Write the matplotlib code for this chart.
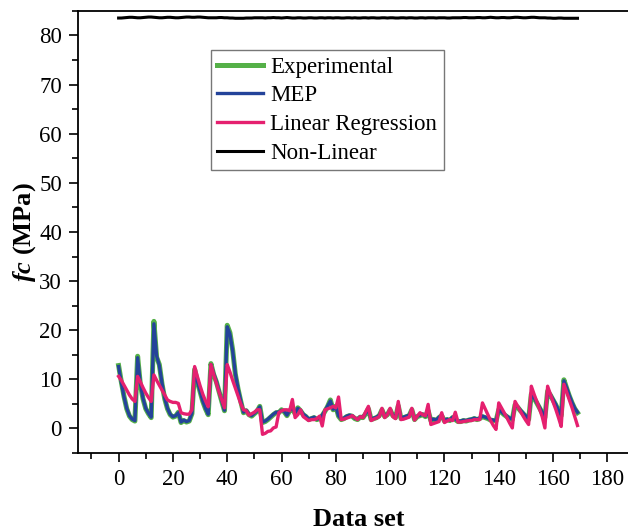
import numpy as np
import matplotlib
matplotlib.use('Agg')
import matplotlib.pyplot as plt
from matplotlib.ticker import MultipleLocator

plt.rcParams['font.family'] = ['Liberation Serif', 'DejaVu Serif']
plt.rcParams['mathtext.fontset'] = 'custom'
plt.rcParams['mathtext.rm'] = 'Liberation Serif'
plt.rcParams['mathtext.bfit'] = 'Liberation Serif:bold:italic'

# fc (MPa) per data set index 0..169
experimental = [
    12.8, 9.5, 6.5, 4.0, 2.5, 1.8, 1.5, 14.7, 9.0, 6.0,
    4.0, 3.0, 2.2, 21.8, 14.5, 13.0, 9.0, 6.0, 4.0, 2.8,
    2.3, 2.5, 3.3, 1.2, 1.6, 1.3, 1.5, 3.0, 12.0, 9.5,
    7.5, 5.5, 4.0, 2.8, 13.2, 11.0, 9.5, 7.5, 5.5, 3.6,
    21.0, 19.5, 16.0, 11.0, 8.0, 5.5, 3.2, 3.6, 2.8, 2.5,
    3.0, 3.5, 4.5, 1.2, 1.4, 1.8, 2.3, 2.8, 3.2, 3.2,
    3.8, 3.4, 2.6, 3.6, 4.0, 3.0, 4.2, 3.6, 2.8, 2.4,
    1.8, 2.0, 2.2, 1.8, 2.0, 2.6, 3.5, 4.5, 5.8, 3.8,
    4.5, 2.5, 1.8, 2.0, 2.4, 2.6, 2.5, 2.0, 1.8, 2.3,
    2.2, 3.0, 4.0, 1.8, 2.0, 2.2, 2.6, 3.8, 2.4, 2.8,
    3.8, 2.6, 2.2, 4.6, 2.0, 2.2, 2.4, 2.6, 3.8, 1.8,
    2.4, 2.6, 2.8, 2.4, 3.6, 1.6, 1.8, 1.6, 2.2, 2.6,
    1.5, 1.8, 1.6, 2.2, 1.8, 1.4, 1.4, 1.6, 1.5, 1.7,
    1.8, 2.0, 1.8, 2.0, 2.4, 2.2, 2.0, 1.7, 1.6, 1.5,
    3.8, 3.3, 2.8, 2.4, 2.0, 1.8, 4.8, 4.3, 3.6, 3.0,
    2.4, 1.8, 7.0, 6.2, 5.2, 4.2, 3.2, 2.2, 7.6, 6.8,
    5.8, 4.8, 3.6, 2.6, 9.9, 8.2, 6.6, 5.2, 4.0, 3.2,
]

mep = [
    12.6, 9.3, 6.4, 4.1, 2.6, 1.9, 1.6, 14.4, 9.2, 6.1,
    4.1, 3.1, 2.3, 21.3, 14.8, 12.8, 9.2, 6.1, 4.1, 2.9,
    2.4, 2.6, 3.2, 1.3, 1.7, 1.4, 1.6, 3.1, 11.8, 9.6,
    7.6, 5.6, 4.1, 2.9, 13.0, 11.2, 9.6, 7.6, 5.6, 3.7,
    20.7, 19.2, 15.8, 11.2, 8.1, 5.6, 3.3, 3.7, 2.9, 2.6,
    3.1, 3.6, 4.4, 1.3, 1.5, 1.9, 2.4, 2.9, 3.3, 3.3,
    3.7, 3.5, 2.7, 3.7, 4.1, 3.1, 4.1, 3.7, 2.9, 2.5,
    1.9, 2.1, 2.3, 1.9, 2.1, 2.7, 3.6, 4.6, 5.6, 3.9,
    4.4, 2.6, 1.9, 2.1, 2.5, 2.7, 2.6, 2.1, 1.9, 2.4,
    2.3, 3.1, 3.9, 1.9, 2.1, 2.3, 2.7, 3.7, 2.5, 2.9,
    3.7, 2.7, 2.3, 4.5, 2.1, 2.3, 2.5, 2.7, 3.7, 1.9,
    2.5, 2.7, 2.9, 2.5, 3.5, 1.7, 1.9, 1.7, 2.3, 2.5,
    1.6, 1.9, 1.7, 2.3, 1.9, 1.5, 1.5, 1.7, 1.6, 1.8,
    1.9, 2.1, 1.9, 2.1, 2.5, 2.3, 2.1, 1.8, 1.7, 1.6,
    3.7, 3.4, 2.9, 2.5, 2.1, 1.9, 4.7, 4.4, 3.7, 3.1,
    2.5, 1.9, 6.8, 6.3, 5.3, 4.3, 3.3, 2.3, 7.4, 6.9,
    5.9, 4.9, 3.7, 2.7, 9.7, 8.3, 6.7, 5.3, 4.1, 3.3,
]

linear = [
    10.6, 9.8, 8.8, 7.8, 6.8, 6.0, 5.5, 10.6, 9.5, 8.3,
    7.2, 6.3, 5.5, 10.9, 9.8, 8.8, 7.8, 6.8, 5.8, 5.5,
    5.3, 5.3, 5.1, 3.2, 3.0, 2.9, 2.9, 3.8, 12.6, 10.6,
    8.7, 7.0, 5.6, 4.4, 13.0, 11.0, 9.2, 7.4, 5.8, 4.2,
    13.0, 11.5, 9.8, 8.2, 6.6, 5.0, 3.8, 3.6, 2.7, 3.0,
    3.3, 3.8, 3.8, -1.2, -1.0, -0.6, -0.5, 0.1, 0.3, 3.2,
    3.6, 3.8, 3.8, 3.6, 5.9, 2.2, 2.8, 3.8, 2.4, 2.0,
    1.6, 1.8, 1.8, 2.0, 2.5, 0.5, 3.8, 4.0, 4.2, 4.5,
    4.2, 6.4, 1.8, 1.9, 2.1, 2.3, 2.6, 2.2, 1.8, 2.4,
    2.2, 3.4, 4.5, 1.6, 1.9, 2.1, 2.4, 4.1, 2.2, 2.8,
    4.1, 2.4, 2.0, 5.5, 1.8, 1.9, 2.1, 2.3, 4.1, 1.7,
    2.5, 3.2, 2.8, 2.6, 4.9, 0.8, 1.0, 1.2, 1.4, 3.2,
    1.2, 1.5, 1.8, 1.6, 3.3, 1.3, 1.3, 1.4, 1.5, 1.6,
    1.6, 1.8, 1.8, 1.8, 5.2, 4.0, 2.8, 1.6, 0.6, -0.2,
    5.2, 4.2, 3.2, 2.2, 1.1, 0.1, 5.5, 4.5, 3.5, 2.5,
    1.6, 0.8, 8.6, 7.0, 5.5, 4.0, 2.4, 0.1, 8.6, 7.0,
    5.4, 3.9, 2.2, 0.4, 9.0, 7.4, 5.8, 4.2, 2.4, 0.6,
]

nonlinear = [
    83.55, 83.55, 83.6, 83.65, 83.7, 83.7, 83.65, 83.6, 83.6, 83.65,
    83.7, 83.75, 83.75, 83.7, 83.65, 83.6, 83.6, 83.65, 83.7, 83.7,
    83.65, 83.6, 83.6, 83.65, 83.7, 83.75, 83.75, 83.7, 83.7, 83.75,
    83.75, 83.7, 83.65, 83.6, 83.6, 83.6, 83.6, 83.65, 83.65, 83.6,
    83.6, 83.55, 83.55, 83.5, 83.5, 83.5, 83.5, 83.55, 83.55, 83.55,
    83.6, 83.6, 83.6, 83.6, 83.55, 83.6, 83.6, 83.65, 83.6, 83.6,
    83.55, 83.6, 83.65, 83.6, 83.55, 83.55, 83.6, 83.6, 83.55, 83.55,
    83.6, 83.6, 83.55, 83.55, 83.6, 83.6, 83.55, 83.6, 83.6, 83.55,
    83.6, 83.6, 83.55, 83.55, 83.6, 83.6, 83.55, 83.6, 83.55, 83.55,
    83.6, 83.6, 83.55, 83.6, 83.6, 83.55, 83.55, 83.6, 83.6, 83.55,
    83.6, 83.6, 83.55, 83.55, 83.6, 83.6, 83.55, 83.6, 83.6, 83.55,
    83.55, 83.6, 83.6, 83.55, 83.6, 83.6, 83.6, 83.55, 83.6, 83.6,
    83.6, 83.55, 83.55, 83.6, 83.6, 83.6, 83.6, 83.65, 83.65, 83.6,
    83.6, 83.6, 83.65, 83.65, 83.6, 83.6, 83.65, 83.7, 83.65, 83.6,
    83.6, 83.65, 83.65, 83.6, 83.6, 83.65, 83.7, 83.7, 83.65, 83.6,
    83.6, 83.65, 83.7, 83.7, 83.65, 83.6, 83.6, 83.6, 83.55, 83.55,
    83.5, 83.5, 83.55, 83.55, 83.5, 83.5, 83.5, 83.5, 83.5, 83.5,
]

x = np.arange(len(experimental))

fig = plt.figure(figsize=(6.28, 5.32), dpi=100)
ax = fig.add_axes([0.124, 0.1485, 0.895, 0.831])

ax.plot(x, experimental, color='#55B048', lw=3.6, label='Experimental')
ax.plot(x, mep, color='#24439A', lw=2.4, label='MEP')
ax.plot(x, linear, color='#E5206F', lw=2.4, label='Linear Regression')
ax.plot(x, nonlinear, color='black', lw=2.2, label='Non-Linear')

ax.set_xlim(-15, 192)
ax.set_ylim(-5, 85)
ax.xaxis.set_minor_locator(MultipleLocator(10))
ax.yaxis.set_major_locator(MultipleLocator(10))
ax.yaxis.set_minor_locator(MultipleLocator(5))
ax.set_xticks(np.arange(0, 181, 20))
ax.tick_params(which='major', direction='out', length=6.5, width=1.2,
               labelsize=16.5, pad=5)
ax.tick_params(which='minor', direction='out', length=4.3, width=1.2)
for s in ax.spines.values():
    s.set_linewidth(1.3)

ax.set_xlabel('Data set', fontsize=19, fontweight='bold', labelpad=13)
ax.set_ylabel(r'$\mathbfit{fc}$ (MPa)', fontsize=19, fontweight='bold', labelpad=1)

leg = ax.legend(loc='upper left', bbox_to_anchor=(0.236, 0.912), fontsize=16.5,
                frameon=True, fancybox=False, edgecolor='#555555',
                handlelength=2.0, handletextpad=0.3, labelspacing=0.33,
                borderpad=0.3, borderaxespad=0)
leg.get_frame().set_linewidth(1.0)

fig.savefig('out.png', dpi=100)
